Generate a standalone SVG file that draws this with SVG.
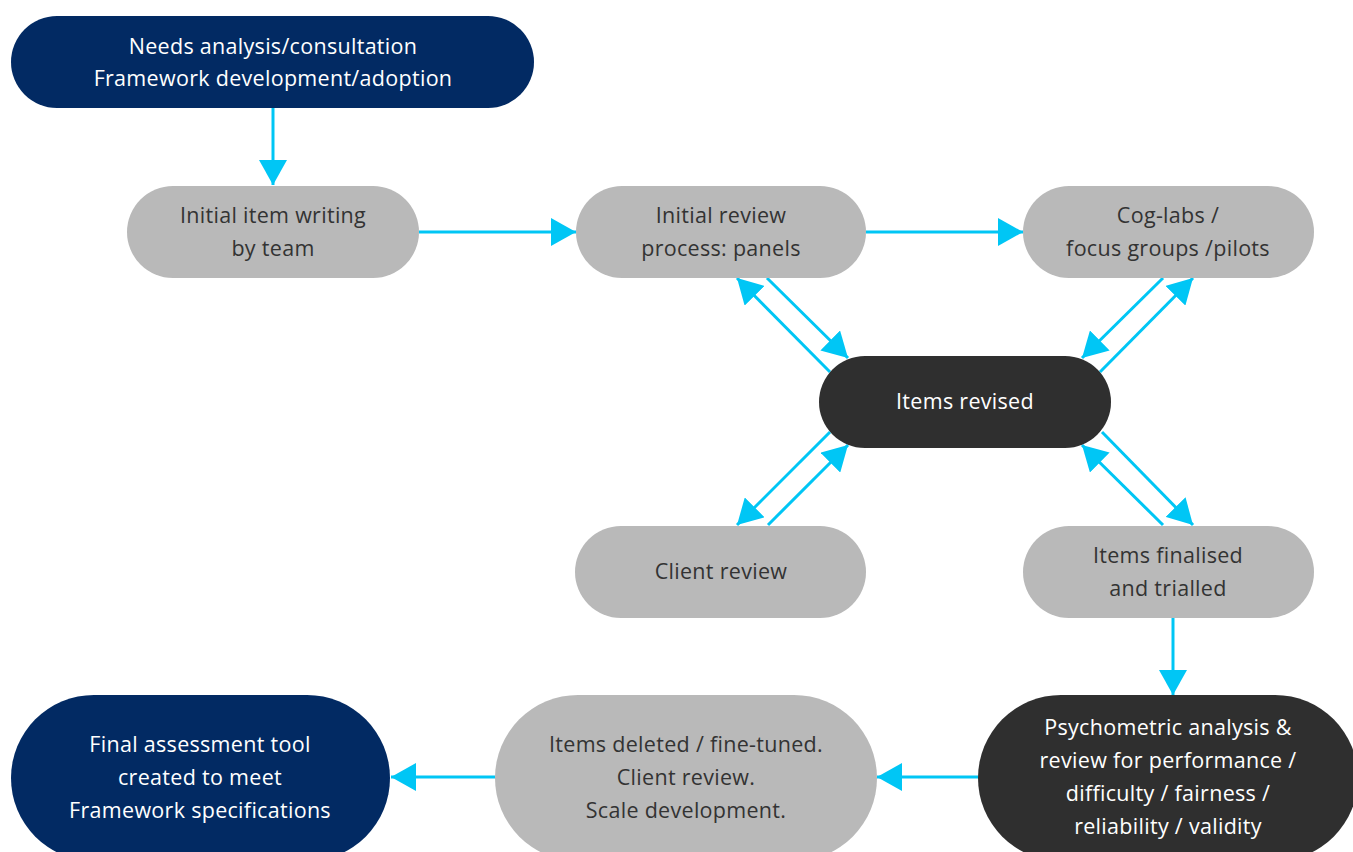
<svg xmlns="http://www.w3.org/2000/svg" width="1353" height="852" viewBox="0 0 1353 852">
<defs>
<style>
.navy{fill:#022a63}
.gray{fill:#b9b9b9}
.dark{fill:#2f2f2f}
text{font-family:"Open Sans","Noto Sans","Liberation Sans",sans-serif;font-size:21.5px;font-weight:500;text-anchor:middle;font-variant-ligatures:none;letter-spacing:0.3px}
.lt{fill:#ffffff}
.dk{fill:#333333}
.c{stroke:#00c6f5;stroke-width:3;fill:none;marker-end:url(#ah)}
</style>
<marker id="ah" markerUnits="userSpaceOnUse" markerWidth="26" markerHeight="28" refX="25" refY="14" orient="auto" viewBox="0 0 26 28">
<path d="M0,0 L25,14 L0,28 z" fill="#00c6f5"/>
</marker>
</defs>
<rect width="1353" height="852" fill="#ffffff"/>
<g id="connectors">
<line class="c" x1="273" y1="108" x2="273" y2="185"/>
<line class="c" x1="419" y1="232" x2="576" y2="232"/>
<line class="c" x1="866" y1="232" x2="1023" y2="232"/>
<line class="c" x1="767" y1="278" x2="848" y2="358"/>
<line class="c" x1="830" y1="372" x2="737" y2="278"/>
<line class="c" x1="1163" y1="278" x2="1082" y2="358"/>
<line class="c" x1="1100" y1="372" x2="1193" y2="278"/>
<line class="c" x1="768" y1="525" x2="848" y2="445"/>
<line class="c" x1="830" y1="432" x2="737" y2="525"/>
<line class="c" x1="1102" y1="432" x2="1193" y2="525"/>
<line class="c" x1="1163" y1="525" x2="1082" y2="445"/>
<line class="c" x1="1173" y1="618" x2="1173" y2="695"/>
<line class="c" x1="978" y1="777" x2="877" y2="777"/>
<line class="c" x1="495" y1="777" x2="391" y2="777"/>
</g>
<g id="n-needs">
<rect class="navy" x="11" y="16" width="523" height="92" rx="46"/>
<text class="lt" x="273" y="54">Needs analysis/consultation</text>
<text class="lt" x="273" y="86">Framework development/adoption</text>
</g>
<g id="n-initial-writing">
<rect class="gray" x="127" y="186" width="292" height="92" rx="46"/>
<text class="dk" x="273" y="223">Initial item writing</text>
<text class="dk" x="273" y="256">by team</text>
</g>
<g id="n-initial-review">
<rect class="gray" x="576" y="186" width="290" height="92" rx="46"/>
<text class="dk" x="721" y="223">Initial review</text>
<text class="dk" x="721" y="256">process: panels</text>
</g>
<g id="n-coglabs">
<rect class="gray" x="1023" y="186" width="291" height="92" rx="46"/>
<text class="dk" x="1168" y="223">Cog-labs /</text>
<text class="dk" x="1168" y="256">focus groups /pilots</text>
</g>
<g id="n-revised">
<rect class="dark" x="819" y="356" width="292" height="92" rx="46"/>
<text class="lt" x="965" y="409">Items revised</text>
</g>
<g id="n-client">
<rect class="gray" x="575" y="526" width="291" height="92" rx="46"/>
<text class="dk" x="721" y="579">Client review</text>
</g>
<g id="n-finalised">
<rect class="gray" x="1023" y="526" width="291" height="92" rx="46"/>
<text class="dk" x="1168" y="563">Items finalised</text>
<text class="dk" x="1168" y="596">and trialled</text>
</g>
<g id="n-psychometric">
<rect class="dark" x="978" y="695" width="380" height="166" rx="83"/>
<text class="lt" x="1168" y="735">Psychometric analysis &amp;</text>
<text class="lt" x="1168" y="768">review for performance /</text>
<text class="lt" x="1168" y="801">difficulty / fairness /</text>
<text class="lt" x="1168" y="834">reliability / validity</text>
</g>
<g id="n-deleted">
<rect class="gray" x="495" y="695" width="382" height="166" rx="83"/>
<text class="dk" x="686" y="752">Items deleted / fine-tuned.</text>
<text class="dk" x="686" y="785">Client review.</text>
<text class="dk" x="686" y="818">Scale development.</text>
</g>
<g id="n-final">
<rect class="navy" x="11" y="695" width="379" height="166" rx="83"/>
<text class="lt" x="200" y="752">Final assessment tool</text>
<text class="lt" x="200" y="785">created to meet</text>
<text class="lt" x="200" y="818">Framework specifications</text>
</g>
</svg>
